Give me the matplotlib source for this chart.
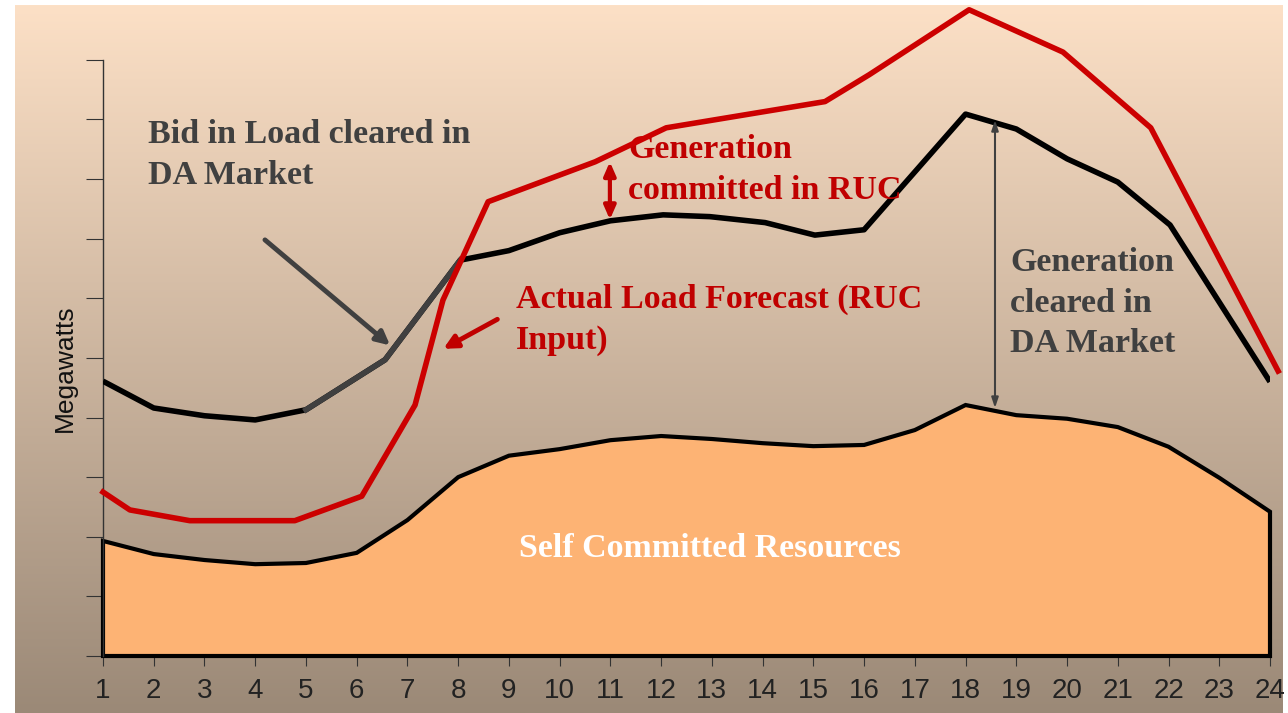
import matplotlib

matplotlib.use("Agg")
import matplotlib.pyplot as plt
import numpy as np

# hourly profile, values in arbitrary "grid units"
HOURS = list(range(1, 25))
SELF_COMMITTED = [1.93, 1.71, 1.61, 1.54, 1.56, 1.73, 2.28, 3.00, 3.36, 3.47, 3.62, 3.69,
                  3.64, 3.57, 3.52, 3.54, 3.79, 4.21, 4.04, 3.98, 3.84, 3.51, 2.99, 2.42]

BID_HOURS = [1, 2, 3, 4, 5, 6.56, 8.04, 9, 10, 11, 12.04, 12.96, 14.05, 15.03, 16, 18,
             19, 20, 21, 22.03, 24]
BID_MW = [4.61, 4.16, 4.03, 3.96, 4.13, 4.97, 6.64, 6.80, 7.10, 7.30, 7.40, 7.37, 7.27,
          7.06, 7.15, 9.09, 8.84, 8.34, 7.95, 7.23, 4.60]

RUC_HOURS = [1, 1.53, 2.71, 4.78, 6.1, 7.15, 7.7, 8.59, 10.7, 12.1, 15.23, 16.1, 18.07,
             19.92, 21.65, 24.16]
RUC_MW = [2.75, 2.45, 2.27, 2.27, 2.68, 4.21, 5.97, 7.62, 8.29, 8.86, 9.30, 9.75, 10.84,
          10.13, 8.86, 4.78]

Y_TICKS = list(range(0, 11))

TEXT_GRAY = "#404040"
RED = "#C00000"
ORANGE = "#FDB374"

fig = plt.figure(figsize=(12.88, 7.13), dpi=100)

# gradient backdrop panel
bg = fig.add_axes([15 / 1288, 0, 1268 / 1288, 708 / 713], zorder=-1)
top = np.array([252, 224, 198]) / 255
bot = np.array([155, 137, 119]) / 255
t = np.linspace(0, 1, 256)[:, None]
grad = top[None, :] * (1 - t) + bot[None, :] * t
bg.imshow(grad[:, None, :], aspect="auto", extent=[0, 1, 0, 1])
bg.axis("off")

ax = fig.add_axes([103 / 1288, 57 / 713, 1167 / 1288, 651 / 713])
ax.patch.set_alpha(0)
ax.set_xlim(1, 24)
ax.set_ylim(0, 10.92)

xs = np.r_[HOURS[0], HOURS, HOURS[-1]]
ys = np.r_[0, SELF_COMMITTED, 0]
ax.fill(xs, ys, facecolor=ORANGE, edgecolor="black", linewidth=3, zorder=2, clip_on=False)

ax.plot(BID_HOURS, BID_MW, color="black", linewidth=4, zorder=3, solid_capstyle="butt")
ax.plot(BID_HOURS[4:7], BID_MW[4:7], color=TEXT_GRAY, linewidth=4, zorder=3)
ax.plot(RUC_HOURS, RUC_MW, color="#CC0000", linewidth=4, zorder=4, clip_on=False)

for s in ["top", "right", "bottom"]:
    ax.spines[s].set_visible(False)
ax.spines["left"].set_bounds(0, 10)
ax.spines["left"].set_color("#333333")
ax.spines["left"].set_linewidth(1)

ax.set_xticks(HOURS, [str(h) for h in HOURS], family=["Liberation Sans Narrow", "Liberation Sans"],
              fontsize=20, color="#222222")
ax.set_yticks(Y_TICKS, [])
ax.tick_params(axis="x", length=7, width=0.8, color="#333333", pad=9)
ax.tick_params(axis="y", length=12, width=0.8, color="#333333")

fig.text(65 / 1288, 1 - 368 / 713, "Megawatts", rotation=90, ha="center", va="center",
         family="Liberation Sans", fontsize=19, color="#111111")

bold = dict(family="Liberation Serif", fontweight="bold", fontsize=24.5, linespacing=1.4)
ax.text(1.89, 9.0, "Bid in Load cleared in\nDA Market", color=TEXT_GRAY, va="top", **bold)
ax.text(11.35, 8.75, "Generation\ncommitted in RUC", color=RED, va="top", **bold)
ax.text(9.14, 6.24, "Actual Load Forecast (RUC\nInput)", color=RED, va="top", **bold)
ax.text(18.88, 6.86, "Generation\ncleared in\nDA Market", color=TEXT_GRAY, va="top", **bold)
ax.text(12.96, 1.81, "Self Committed Resources", color="white", ha="center", va="center", **bold)

ax.annotate("", xy=(6.70, 5.18), xytext=(4.15, 7.01),
            arrowprops=dict(arrowstyle="-|>,head_length=0.8,head_width=0.4", color=TEXT_GRAY, lw=3.5))
ax.annotate("", xy=(7.66, 5.13), xytext=(8.82, 5.67),
            arrowprops=dict(arrowstyle="-|>,head_length=0.8,head_width=0.4", color=RED, lw=3.5))
ax.annotate("", xy=(10.99, 8.29), xytext=(10.99, 7.32),
            arrowprops=dict(arrowstyle="<|-|>,head_length=0.8,head_width=0.35", color=RED, lw=3,
                            shrinkA=0, shrinkB=0))
ax.annotate("", xy=(18.58, 8.99), xytext=(18.58, 4.16),
            arrowprops=dict(arrowstyle="<|-|>,head_length=0.6,head_width=0.2", color=TEXT_GRAY, lw=1.5,
                            shrinkA=0, shrinkB=0))

fig.savefig("out.png", dpi=100)
